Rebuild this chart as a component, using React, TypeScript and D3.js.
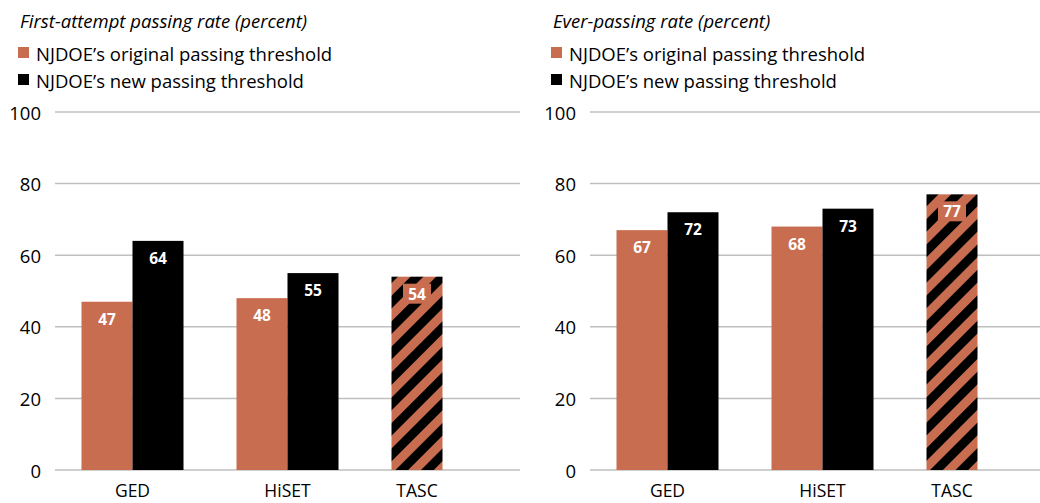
import React, { useEffect, useRef } from 'react';
import * as d3 from 'd3';

const categories = ['GED', 'HiSET', 'TASC'];
const seriesNames = ['NJDOE’s original passing threshold', 'NJDOE’s new passing threshold'];
const yTicks = [0, 20, 40, 60, 80, 100];

// TASC had the same rate under both thresholds, drawn as one hatched bar
const sameUnderBoth = ['TASC'];

const firstAttemptOriginal = [47, 48, 54];
const firstAttemptNew = [64, 55, 54];
const everPassOriginal = [67, 68, 77];
const everPassNew = [72, 73, 77];

const panelTitles = ['First-attempt passing rate (percent)', 'Ever-passing rate (percent)'];

const ORANGE = '#c86d4f';
const BLACK = '#000000';
const FONT = '"Open Sans", "Noto Sans", sans-serif';

const App: React.FC = () => {
  const ref = useRef<SVGSVGElement>(null);

  useEffect(() => {
    if (!ref.current) return;
    const svg = d3.select(ref.current);
    svg.selectAll('*').remove();

    const defs = svg.append('defs');
    const pat = defs.append('pattern')
      .attr('id', 'hatch')
      .attr('patternUnits', 'userSpaceOnUse')
      .attr('width', 18)
      .attr('height', 18)
      .attr('patternTransform', 'rotate(45)');
    pat.append('rect').attr('width', 18).attr('height', 18).attr('fill', ORANGE);
    pat.append('rect').attr('width', 9).attr('height', 18).attr('fill', BLACK);

    const panels = [
      { title: panelTitles[0], values: [firstAttemptOriginal, firstAttemptNew], left: 55, right: 520, titleX: 20 },
      { title: panelTitles[1], values: [everPassOriginal, everPassNew], left: 590, right: 1055, titleX: 553 },
    ];

    const y = d3.scaleLinear().domain([0, 100]).range([470, 112]);

    panels.forEach(p => {
      const g = svg.append('g');

      // title
      g.append('text')
        .attr('x', p.titleX)
        .attr('y', 20)
        .attr('dominant-baseline', 'central')
        .attr('font-family', FONT)
        .attr('font-style', 'italic')
        .attr('font-size', 18.5)
        .attr('fill', '#000')
        .text(p.title);

      // legend
      seriesNames.forEach((name, i) => {
        const ly = 53 + i * 27;
        g.append('rect')
          .attr('x', p.titleX - 2)
          .attr('y', ly - 6)
          .attr('width', 11)
          .attr('height', 11)
          .attr('fill', i === 0 ? ORANGE : BLACK);
        g.append('text')
          .attr('x', p.titleX + 16)
          .attr('y', ly)
          .attr('dominant-baseline', 'central')
          .attr('font-family', FONT)
          .attr('font-size', 18.5)
          .attr('fill', '#000')
          .text(name);
      });

      // grid + y labels
      yTicks.forEach(t => {
        g.append('line')
          .attr('x1', p.left)
          .attr('x2', p.right)
          .attr('y1', y(t))
          .attr('y2', y(t))
          .attr('stroke', '#bfbfbf')
          .attr('stroke-width', 1.5);
        g.append('text')
          .attr('x', p.left - 14)
          .attr('y', y(t))
          .attr('text-anchor', 'end')
          .attr('dominant-baseline', 'central')
          .attr('font-family', FONT)
          .attr('font-size', 18.5)
          .attr('fill', '#000')
          .text(t);
      });

      const x0 = d3.scaleBand<string>().domain(categories).range([p.left, p.right]);
      const x1 = d3.scaleBand<number>().domain([0, 1]).range([26.5, x0.bandwidth() - 26.5]);

      categories.forEach((cat, ci) => {
        const bx = x0(cat)!;
        const same = sameUnderBoth.includes(cat);
        const series = same ? [0] : [0, 1];
        series.forEach(si => {
          const v = p.values[si][ci];
          const xs = bx + x1(si)!;
          const w = x1.bandwidth();
          g.append('rect')
            .attr('x', xs)
            .attr('y', y(v))
            .attr('width', w)
            .attr('height', y(0) - y(v))
            .attr('fill', same ? 'url(#hatch)' : si === 0 ? ORANGE : BLACK);

          if (same) {
            g.append('rect')
              .attr('x', xs + w / 2 - 14)
              .attr('y', y(v) + 17 - 10)
              .attr('width', 28)
              .attr('height', 20)
              .attr('fill', ORANGE);
          }
          g.append('text')
            .attr('x', xs + w / 2)
            .attr('y', y(v) + 17)
            .attr('text-anchor', 'middle')
            .attr('dominant-baseline', 'central')
            .attr('font-family', FONT)
            .attr('font-weight', 'bold')
            .attr('font-size', 15.5)
            .attr('fill', '#fff')
            .text(v);
        });

        const lx = bx + x1(0)! + (same ? x1.bandwidth() / 2 : x1.bandwidth());
        g.append('text')
          .attr('x', lx)
          .attr('y', 497)
          .attr('text-anchor', 'middle')
          .attr('font-family', FONT)
          .attr('font-size', 17.5)
          .attr('fill', '#000')
          .text(cat);
      });
    });
  }, []);

  return (
    <svg
      ref={ref}
      width={1040}
      height={503}
      style={{ position: 'absolute', left: 0, top: 0, background: '#fff' }}
    ></svg>
  );
};

export default App;
